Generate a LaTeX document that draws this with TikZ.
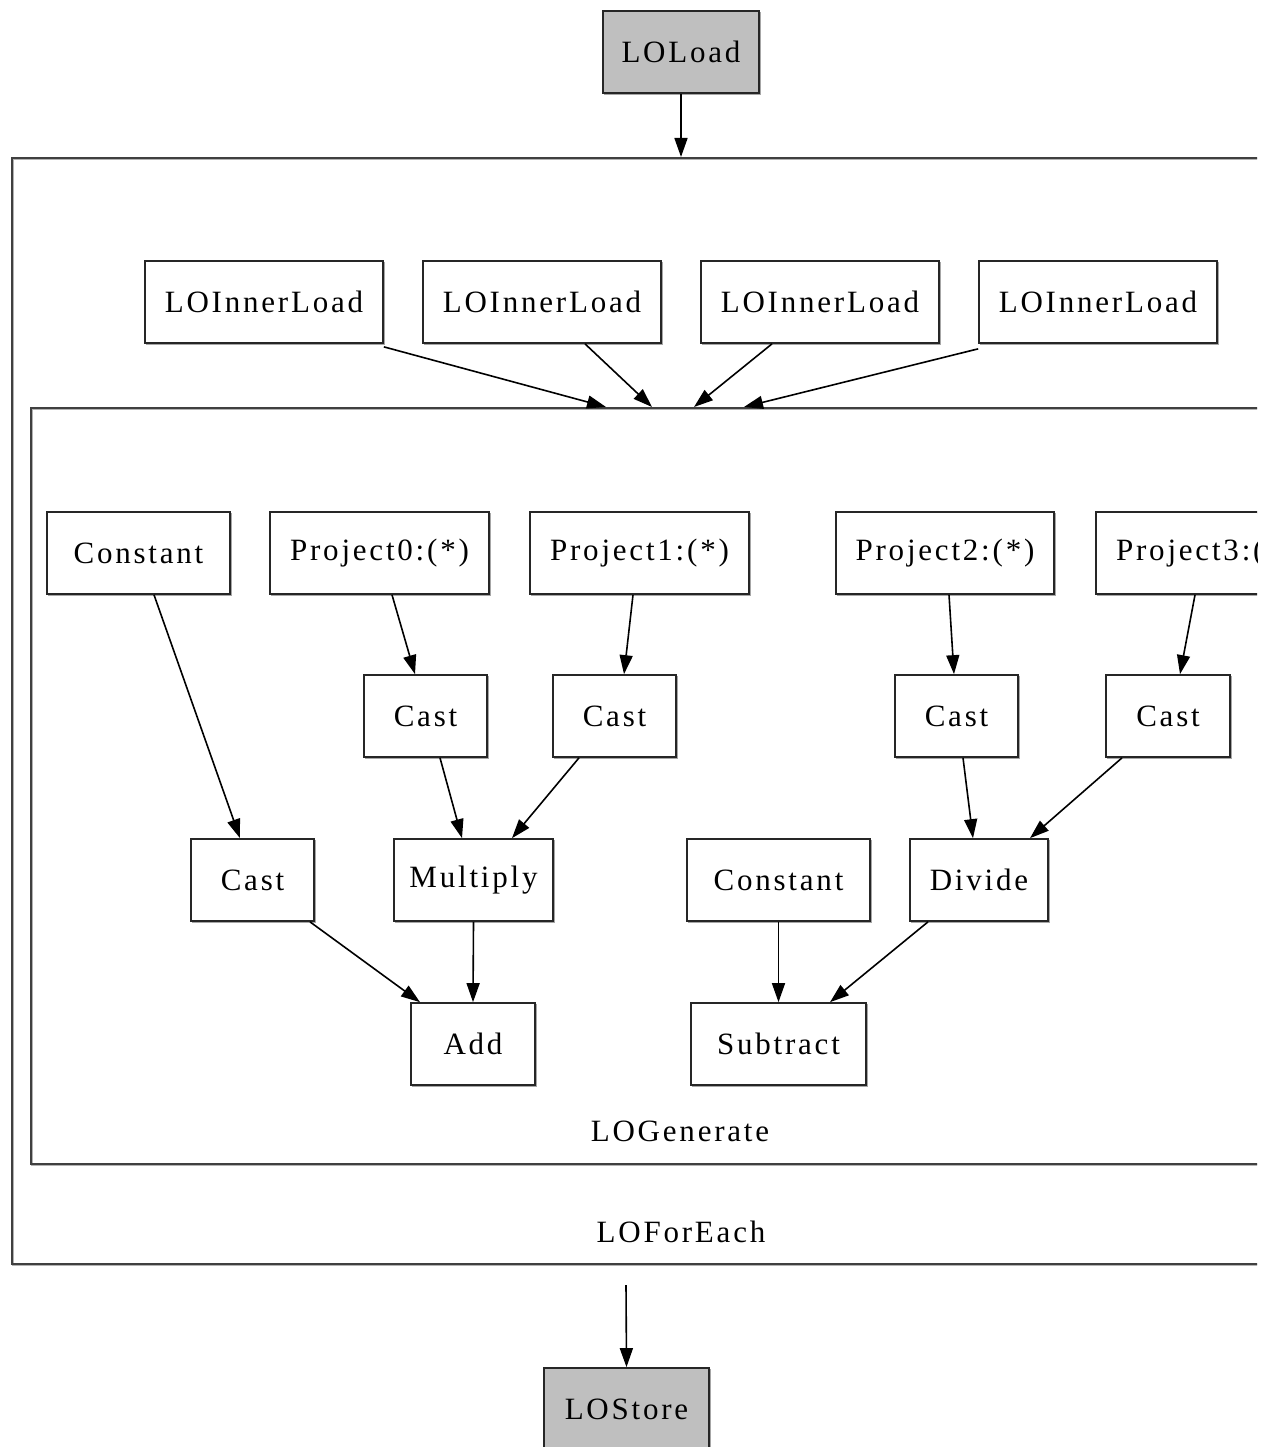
\documentclass[tikz,border=0pt]{standalone}
\usepackage{fontspec}
\setmainfont{Liberation Serif}[LetterSpace=9]
\usetikzlibrary{arrows.meta,positioning,calc}
\begin{document}
\begin{tikzpicture}[x=1pt,y=-1pt,
  every node/.style={font=\fontsize{31}{36}\selectfont},
  box/.style={draw=black!85,line width=1.7pt,fill=white,inner sep=0pt,
     minimum height=82pt,
     preaction={draw=black!35,line width=1.6pt,transform canvas={shift={(1.5pt,-1.5pt)}}}},
  graybox/.style={box,fill=black!25},
  cluster/.style={draw=black!75,line width=1.7pt,inner sep=0pt,anchor=north west,
     preaction={draw=black!30,line width=1.6pt,transform canvas={shift={(1.2pt,-1.2pt)}}}},
  arr/.style={-{Triangle[length=19pt,width=13pt]},line width=1.6pt,black},
  lbl/.style={inner sep=0pt}]
\useasboundingbox (0,0) rectangle (1273,1447);
\fill[white] (0,0) rectangle (1273,1447);
\begin{scope}
\clip (0,0) rectangle (1257,1447);
% clusters
\node[cluster,minimum width=1320pt,minimum height=1106pt] (foreach) at (11,157) {};
\node[cluster,minimum width=1300pt,minimum height=756pt] (generate) at (30,407) {};
\node[lbl] (lforeach) at (681,1232) {LOForEach};
\node[lbl] (lgenerate) at (680,1131) {LOGenerate};
% top / bottom
\node[graybox,minimum width=156pt] (load) at (681,52) {LOLoad};
\node[graybox,minimum width=165pt] (store) at (626.5,1409) {LOStore};
\coordinate (fe_out) at (626,1285);
% inner loads
\node[box,minimum width=238pt] (il1) at (264,302) {LOInnerLoad};
\node[box,minimum width=238pt] (il2) at (542,302) {LOInnerLoad};
\node[box,minimum width=238pt] (il3) at (820,302) {LOInnerLoad};
\node[box,minimum width=238pt] (il4) at (1098,302) {LOInnerLoad};
% row 1
\node[box,minimum width=183pt] (const1) at (138.5,553) {Constant};
\node[box,minimum width=219pt] (proj0) at (379.5,553) {Project0:(*)};
\node[box,minimum width=219pt] (proj1) at (639.5,553) {Project1:(*)};
\node[box,minimum width=218pt] (proj2) at (945,553) {Project2:(*)};
\node[box,minimum width=219pt] (proj3) at (1205.5,553) {Project3:(*)};
% row 2
\node[box,minimum width=123pt] (cast0) at (425.5,716) {Cast};
\node[box,minimum width=123pt] (cast1) at (614.5,716) {Cast};
\node[box,minimum width=123pt] (cast2) at (956.5,716) {Cast};
\node[box,minimum width=124pt] (cast3) at (1168,716) {Cast};
% row 3
\node[box,minimum width=123pt] (castc) at (252.5,880) {Cast};
\node[box,minimum width=159pt] (mult) at (473.5,880) {Multiply};
\node[box,minimum width=183pt] (const2) at (778.5,880) {Constant};
\node[box,minimum width=138pt] (div) at (979,880) {Divide};
% row 4
\node[box,minimum width=124pt] (add) at (473,1044) {Add};
\node[box,minimum width=175pt] (sub) at (778.5,1044) {Subtract};
% edges
\draw[arr] (load.south) -- (load.south |- foreach.north);
\draw[arr] ([yshift=-3pt]il1.south east) -- ($(generate.north west)+(576,0)$);
\draw[arr] ([xshift=43pt]il2.south) -- ($(generate.north west)+(622,0)$);
\draw[arr] ([xshift=-48pt]il3.south) -- ($(generate.north west)+(664,0)$);
\draw[arr] ([yshift=-5pt]il4.south west) -- ($(generate.north west)+(714,0)$);
\draw[arr] (fe_out) -- (store.north);
\draw[arr] ([xshift=15.5pt]const1.south) -- ([xshift=-12.5pt]castc.north);
\draw[arr] ([xshift=12.5pt]proj0.south) -- ([xshift=-10.5pt]cast0.north);
\draw[arr] ([xshift=-6.5pt]proj1.south) -- ([xshift=9.5pt]cast1.north);
\draw[arr] ([xshift=4pt]proj2.south) -- ([xshift=-2.5pt]cast2.north);
\draw[arr] ([xshift=-10.5pt]proj3.south) -- ([xshift=12pt]cast3.north);
\draw[arr] ([xshift=14.5pt]cast0.south) -- ([xshift=-11.5pt]mult.north);
\draw[arr] ([xshift=-35.5pt]cast1.south) -- ([xshift=38.5pt]mult.north);
\draw[arr] ([xshift=6.5pt]cast2.south) -- ([xshift=-6pt]div.north);
\draw[arr] ([xshift=-46pt]cast3.south) -- ([xshift=51pt]div.north);
\draw[arr] ([xshift=57.5pt]castc.south) -- ([xshift=-53pt]add.north);
\draw[arr] (mult.south) -- (add.north);
\draw[arr] (const2.south) -- (sub.north);
\draw[arr] ([xshift=-51pt]div.south) -- ([xshift=51.5pt]sub.north);
\end{scope}
\end{tikzpicture}
\end{document}
